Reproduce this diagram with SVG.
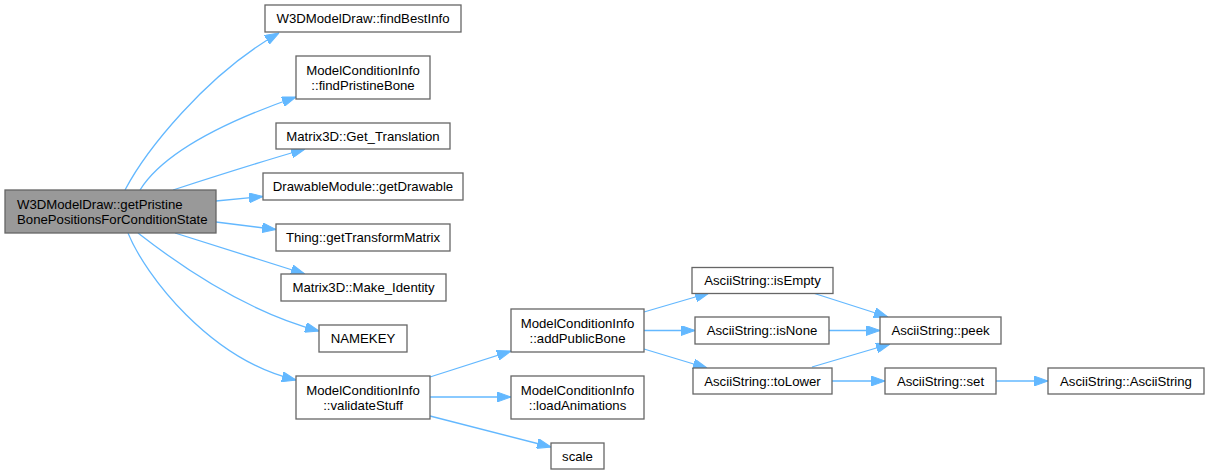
<svg xmlns="http://www.w3.org/2000/svg" width="1210" height="475" viewBox="0 0 1210 475">
<defs>
<style>
.n rect{fill:#ffffff;stroke:#666666;stroke-width:1.3}
#root rect{fill:#999999}
text{font-family:"Liberation Sans",Arial,Helvetica,sans-serif;font-size:13.2px;fill:#000000}
.c{text-anchor:middle}
.e path{fill:none;stroke:#63b8ff;stroke-width:1.3;marker-end:url(#ah)}
</style>
<marker id="ah" viewBox="0 0 14 10" markerWidth="14" markerHeight="10" refX="14" refY="5" orient="auto" markerUnits="userSpaceOnUse">
<path d="M0,0 L14,5 L0,10 z" fill="#63b8ff" stroke="#63b8ff" stroke-width="1"/>
</marker>
</defs>
<rect width="1210" height="475" fill="#ffffff"/>
<g id="edges" class="e">
<path d="M125,190 C145,152 205,75 279,33"/>
<path d="M140,190 C165,150 230,120 296,97"/>
<path d="M173,190 C210,178 260,162 305,149"/>
<path d="M216,201 L263,196.5"/>
<path d="M216,222 L276,229.5"/>
<path d="M175,233 L305,274"/>
<path d="M138,233 C170,258 240,310 319,331"/>
<path d="M128,233 C145,275 210,360 296,380"/>
<path d="M430,377 L511,351"/>
<path d="M430,397 L511,397"/>
<path d="M430,416 L551,447"/>
<path d="M644,312 L709,293"/>
<path d="M644,330.5 L695,330.5"/>
<path d="M644,349 L707,368"/>
<path d="M813,293 L888,317"/>
<path d="M829,330.5 L880,330.5"/>
<path d="M812,367 L890,344"/>
<path d="M831,381 L885,381"/>
<path d="M996,381 L1048,381"/>
</g>
<g id="root" class="n">
<rect x="5" y="190" width="211" height="43"/>
<text x="17" y="208.5">W3DModelDraw::getPristine</text>
<text x="17" y="223.5">BonePositionsForConditionState</text>
</g>
<g id="findBestInfo" class="n">
<rect x="265" y="5" width="196" height="27"/>
<text class="c" x="363" y="23">W3DModelDraw::findBestInfo</text>
</g>
<g id="findPristineBone" class="n">
<rect x="296" y="56" width="134" height="43"/>
<text class="c" x="363" y="74.5">ModelConditionInfo</text>
<text class="c" x="363" y="89.5">::findPristineBone</text>
</g>
<g id="getTranslation" class="n">
<rect x="276" y="123" width="174" height="26"/>
<text class="c" x="363" y="140.5">Matrix3D::Get_Translation</text>
</g>
<g id="getDrawable" class="n">
<rect x="263" y="173" width="200" height="27"/>
<text class="c" x="363" y="191">DrawableModule::getDrawable</text>
</g>
<g id="getTransformMatrix" class="n">
<rect x="276" y="224" width="174" height="27"/>
<text class="c" x="363" y="242">Thing::getTransformMatrix</text>
</g>
<g id="makeIdentity" class="n">
<rect x="281" y="274" width="165" height="27"/>
<text class="c" x="363.5" y="292">Matrix3D::Make_Identity</text>
</g>
<g id="namekey" class="n">
<rect x="319" y="325" width="88" height="27"/>
<text class="c" x="363" y="343">NAMEKEY</text>
</g>
<g id="validateStuff" class="n">
<rect x="296" y="376" width="134" height="43"/>
<text class="c" x="363" y="394.5">ModelConditionInfo</text>
<text class="c" x="363" y="409.5">::validateStuff</text>
</g>
<g id="addPublicBone" class="n">
<rect x="511" y="309" width="133" height="43"/>
<text class="c" x="577.5" y="327.5">ModelConditionInfo</text>
<text class="c" x="577.5" y="342.5">::addPublicBone</text>
</g>
<g id="loadAnimations" class="n">
<rect x="511" y="376" width="133" height="43"/>
<text class="c" x="577.5" y="394.5">ModelConditionInfo</text>
<text class="c" x="577.5" y="409.5">::loadAnimations</text>
</g>
<g id="scale" class="n">
<rect x="551" y="443" width="53" height="26"/>
<text class="c" x="577.5" y="460.5">scale</text>
</g>
<g id="isEmpty" class="n">
<rect x="692" y="267.5" width="141" height="26"/>
<text class="c" x="762.5" y="285">AsciiString::isEmpty</text>
</g>
<g id="isNone" class="n">
<rect x="695" y="317" width="134" height="27"/>
<text class="c" x="762" y="335">AsciiString::isNone</text>
</g>
<g id="toLower" class="n">
<rect x="693" y="368" width="139" height="26"/>
<text class="c" x="762.5" y="385.5">AsciiString::toLower</text>
</g>
<g id="peek" class="n">
<rect x="880" y="317" width="121" height="27"/>
<text class="c" x="940.5" y="335">AsciiString::peek</text>
</g>
<g id="set" class="n">
<rect x="885" y="368" width="111" height="26"/>
<text class="c" x="940.5" y="385.5">AsciiString::set</text>
</g>
<g id="asciiString" class="n">
<rect x="1048" y="368" width="156" height="26"/>
<text class="c" x="1126" y="385.5">AsciiString::AsciiString</text>
</g>
</svg>
